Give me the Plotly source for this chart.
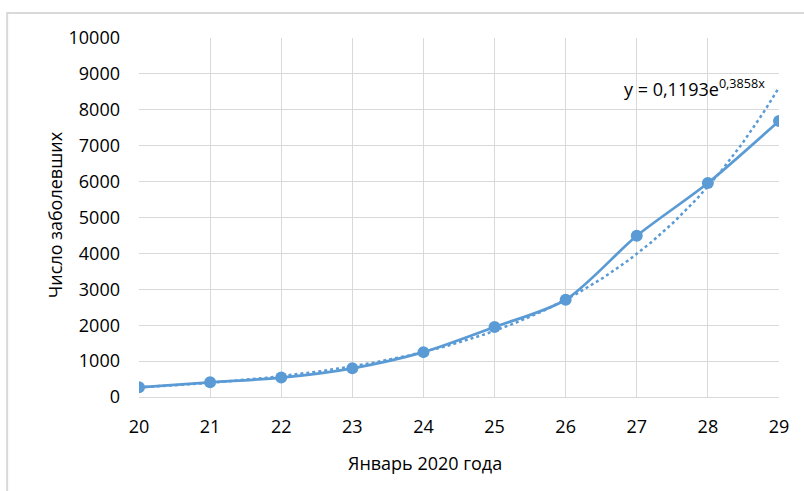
import numpy as np
import plotly.graph_objects as go

# Confirmed cases by day, January 2020
days = [20, 21, 22, 23, 24, 25, 26, 27, 28, 29]
cases = [270, 410, 540, 800, 1250, 1950, 2710, 4490, 5960, 7690]

# Exponential trendline coefficients: y = a * e^(b*x)
trend_a = 0.1193
trend_b = 0.3858

y_ticks = [0, 1000, 2000, 3000, 4000, 5000, 6000, 7000, 8000, 9000, 10000]
y_tick_text = [str(v) for v in y_ticks]

BLUE = "#5B9BD5"
GRID = "#D9D9D9"
FONT = "Open Sans"
FS = 18

trend_x = np.linspace(days[0], days[-1], 200)
trend_y = trend_a * np.exp(trend_b * trend_x)

fig = go.Figure()

fig.add_trace(go.Scatter(
    x=trend_x, y=trend_y, mode="lines",
    line=dict(color=BLUE, width=2.5, dash="dot"),
    hoverinfo="skip", showlegend=False,
))

fig.add_trace(go.Scatter(
    x=days, y=cases, mode="lines+markers",
    line=dict(color=BLUE, width=2.75, shape="spline", smoothing=0.8),
    marker=dict(color=BLUE, size=12),
    showlegend=False,
))

fig.update_layout(
    width=804, height=491,
    margin=dict(l=139, r=25, t=38, b=94),
    paper_bgcolor="white", plot_bgcolor="white",
    font=dict(family=FONT, size=FS, color="#000000"),
    xaxis=dict(
        range=[20, 29], tickmode="array", tickvals=days,
        showgrid=True, gridcolor=GRID, gridwidth=1,
        showline=True, linecolor=GRID, linewidth=1,
        zeroline=False, ticks="", ticklabelstandoff=13,
        tickfont=dict(family=FONT, size=FS),
    ),
    yaxis=dict(
        range=[0, 10000], tickmode="array", tickvals=y_ticks,
        ticktext=y_tick_text,
        showgrid=True, gridcolor=GRID, gridwidth=1,
        zeroline=False, showline=False, ticks="", ticklabelstandoff=18,
        tickfont=dict(family=FONT, size=FS),
    ),
    annotations=[
        dict(
            x=26.79, y=8600, xref="x", yref="y",
            text="y = 0,1193e<sup>0,3858x</sup>",
            showarrow=False, xanchor="left", yanchor="middle",
            font=dict(family=FONT, size=FS, color="#000000"),
        ),
        dict(
            x=0.447, y=-0.184, xref="paper", yref="paper",
            text="Январь 2020 года", showarrow=False,
            xanchor="center", yanchor="middle",
            font=dict(family=FONT, size=FS, color="#000000"),
        ),
        dict(
            x=-0.131, y=0.507, xref="paper", yref="paper",
            text="Число заболевших", showarrow=False, textangle=-90,
            xanchor="center", yanchor="middle",
            font=dict(family=FONT, size=FS, color="#000000"),
        ),
    ],
    shapes=[dict(
        type="rect", xref="paper", yref="paper",
        x0=-0.206, x1=1.2, y0=-0.5, y1=1.0696,
        line=dict(color=GRID, width=2), fillcolor="rgba(0,0,0,0)",
        layer="above",
    )],
)

fig.write_html("out.html")
